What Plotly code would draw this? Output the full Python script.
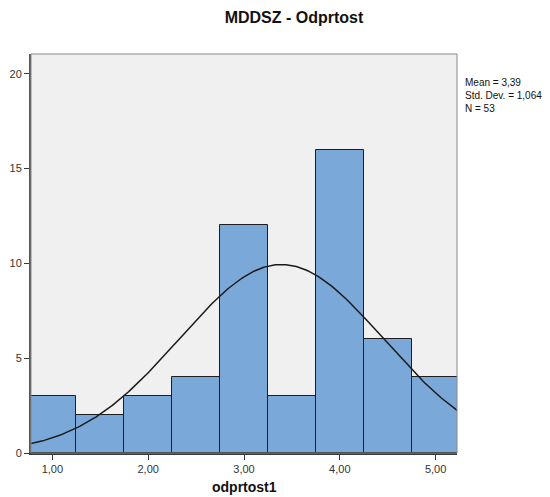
import numpy as np
import plotly.graph_objects as go

bin_centers = [1.0, 1.5, 2.0, 2.5, 3.0, 3.5, 4.0, 4.5, 5.0]
counts = [3, 2, 3, 4, 12, 3, 16, 6, 4]
bin_width = 0.5
mean_val = 3.39
std_val = 1.064
n_val = 53
x_tick_vals = [1, 2, 3, 4, 5]
x_tick_text = ["1,00", "2,00", "3,00", "4,00", "5,00"]
y_tick_vals = [0, 5, 10, 15, 20]
stats_lines = ["Mean = 3,39", "Std. Dev. = 1,064", "N = 53"]

W, H = 542, 489  # page body has an 8px margin

fig = go.Figure()
fig.add_trace(go.Bar(
    x=bin_centers, y=counts, width=bin_width,
    marker=dict(color="#7aa8d8", line=dict(color="#1e1e1e", width=1)),
    showlegend=False, hoverinfo="x+y",
))

xs = np.linspace(0.7, 5.3, 300)
ys = n_val * bin_width / (std_val * np.sqrt(2 * np.pi)) * np.exp(-0.5 * ((xs - mean_val) / std_val) ** 2)
fig.add_trace(go.Scatter(x=xs, y=ys, mode="lines",
                         line=dict(color="#1a1a1a", width=1.5), showlegend=False))

fig.update_layout(
    width=W, height=H,
    margin=dict(l=23, r=93, t=46, b=44),
    paper_bgcolor="white", plot_bgcolor="#f0f0f0",
    bargap=0,
    font=dict(family="Liberation Sans, Arial, sans-serif", color="#222"),
    title=dict(text="<b>MDDSZ - Odprtost</b>", x=(294 - 8) / W, xanchor="center",
               y=1 - (17 - 8) / H, yanchor="middle", font=dict(size=16, color="#111")),
    xaxis=dict(range=[0.777, 5.223], tickvals=x_tick_vals, ticktext=x_tick_text,
               showgrid=False, zeroline=False, showline=True, linecolor="#3a3a3a",
               linewidth=1.5, ticks="outside", ticklen=5, tickcolor="#3a3a3a",
               automargin=False,
               tickfont=dict(size=11, color="#333")),
    yaxis=dict(range=[0, 21.04], tickvals=y_tick_vals, showgrid=False, zeroline=False,
               showline=True, linecolor="#555", linewidth=2, ticks="outside",
               automargin=False,
               ticklen=5, tickcolor="#3a3a3a", tickfont=dict(size=11, color="#333")),
)

fig.add_shape(type="rect", xref="paper", yref="paper", x0=0, x1=1, y0=0, y1=1,
              line=dict(color="#888", width=1), layer="above")

# x axis title
fig.add_annotation(xref="paper", yref="paper", x=0.5, y=-(487 - 453) / 399,
                   xanchor="center", yanchor="middle", showarrow=False,
                   text="<b>odprtost1</b>", font=dict(size=14, color="#111"))

# stats text
fig.add_annotation(xref="paper", yref="paper", x=(463 - 31) / 426,
                   y=(453 - 95) / 399, xanchor="left", yanchor="middle",
                   align="left", showarrow=False, text="<br>".join(stats_lines),
                   font=dict(size=10, color="#111"))

fig.write_html("out.html")
